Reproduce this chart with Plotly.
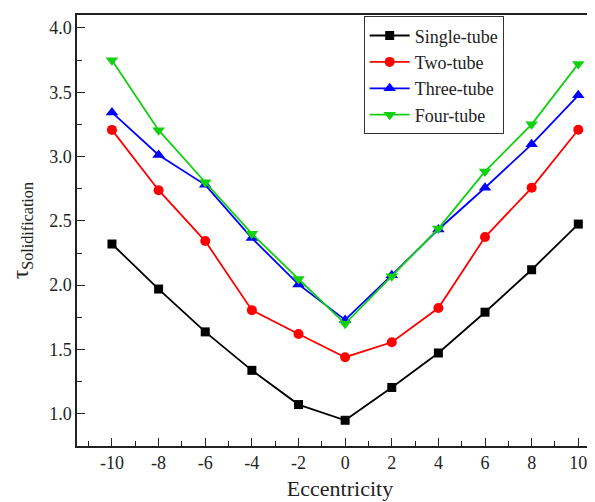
import plotly.graph_objects as go

eccentricity = [-10, -8, -6, -4, -2, 0, 2, 4, 6, 8, 10]
x_tick_labels = ["-10", "-8", "-6", "-4", "-2", "0", "2", "4", "6", "8", "10"]
single_tube = [2.32, 1.97, 1.637, 1.338, 1.072, 0.95, 1.205, 1.473, 1.79, 2.12, 2.475]
two_tube = [3.207, 2.738, 2.343, 1.806, 1.621, 1.44, 1.556, 1.822, 2.374, 2.757, 3.208]
three_tube = [3.343, 3.012, 2.78, 2.366, 2.006, 1.73, 2.078, 2.433, 2.757, 3.095, 3.476]
four_tube = [3.749, 3.205, 2.80, 2.40, 2.048, 1.70, 2.07, 2.44, 2.884, 3.25, 3.72]
y_tick_vals = [1.0, 1.5, 2.0, 2.5, 3.0, 3.5, 4.0]
y_tick_labels = ["1.0", "1.5", "2.0", "2.5", "3.0", "3.5", "4.0"]

series = [
    ("Single-tube", single_tube, "black", "square", 9),
    ("Two-tube", two_tube, "#ff0000", "circle", 10),
    ("Three-tube", three_tube, "#0000ff", "triangle-up", 11),
    ("Four-tube", four_tube, "#10d010", "triangle-down", 11),
]

fig = go.Figure()
for name, vals, color, sym, size in series:
    fig.add_trace(go.Scatter(
        x=eccentricity, y=vals, name=name, mode="lines+markers",
        line=dict(color=color, width=1.8),
        marker=dict(symbol=sym, size=size, color=color),
    ))

font = "'Times New Roman', 'Liberation Serif', 'DejaVu Serif', serif"
fig.update_layout(
    width=595, height=502,
    margin=dict(l=69, r=0, t=7, b=64),
    paper_bgcolor="white", plot_bgcolor="white",
    font=dict(family=font, color="#222", size=18),
    showlegend=True,
    legend=dict(
        x=0.545, y=0.997, xanchor="left", yanchor="top",
        bordercolor="#333", borderwidth=1, bgcolor="white",
        font=dict(size=18, family=font, color="#222"), tracegroupgap=0,
        itemwidth=40,
    ),
    xaxis=dict(
        range=[-11.5, 11.06], tickmode="array", tickvals=eccentricity,
        ticktext=x_tick_labels,
        ticks="inside", ticklen=8, tickwidth=1.2, tickcolor="#222",
        showline=True, linecolor="#222", linewidth=1.5, mirror=True,
        showgrid=False, zeroline=False,
        minor=dict(tickvals=[-11, -9, -7, -5, -3, -1, 1, 3, 5, 7, 9, 11],
                   ticks="inside", ticklen=5, tickcolor="#222", tickwidth=1.2),
        title=dict(text="Eccentricity", font=dict(size=22, family=font, color="#222"), standoff=8),
        tickfont=dict(size=18, family=font, color="#222"),
    ),
    yaxis=dict(
        range=[0.75, 4.1], tickmode="array",
        tickvals=y_tick_vals, ticktext=y_tick_labels,
        ticks="inside", ticklen=8, tickwidth=1.2, tickcolor="#222",
        showline=True, linecolor="#222", linewidth=1.5, mirror=False,
        showgrid=False, zeroline=False,
        minor=dict(tickvals=[1.25, 1.75, 2.25, 2.75, 3.25, 3.75],
                   ticks="inside", ticklen=5, tickcolor="#222", tickwidth=1.2),
        title=dict(text="τ<sub>Solidification</sub>", font=dict(size=23, family=font, color="#222"), standoff=14),
        tickfont=dict(size=18, family=font, color="#222"),
    ),
)

fig.write_html("out.html")
